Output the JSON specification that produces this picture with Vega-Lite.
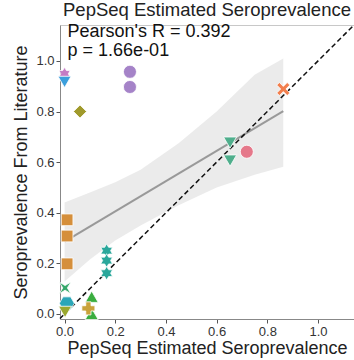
{
  "$schema": "https://vega.github.io/schema/vega-lite/v6.json",
  "width": 294,
  "height": 294,
  "autosize": {"type": "none"},
  "padding": {"left": 60, "top": 25, "right": 0, "bottom": 41},
  "background": "white",
  "title": {"text": "PepSeq Estimated Seroprevalence", "fontSize": 18.5, "font": "Liberation Sans", "fontWeight": "normal", "color": "#222", "offset": 3, "anchor": "middle"},
  "config": {
    "view": {"stroke": "#c8c8c8", "strokeWidth": 1},
    "axis": {"grid": false, "labelFont": "Liberation Sans", "titleFont": "Liberation Sans", "labelFontSize": 13, "labelColor": "#333", "titleFontSize": 18, "titleFontWeight": "normal", "titleColor": "#222", "domainColor": "#888", "tickColor": "#555", "tickSize": 4, "labelPadding": 2}
  },
  "datasets": {
    "points": [
      {"g": "A", "x": 0.0, "y": 0.949},
      {"g": "B", "x": 0.0, "y": 0.917},
      {"g": "C", "x": 0.258, "y": 0.957},
      {"g": "C", "x": 0.258, "y": 0.897},
      {"g": "D", "x": 0.061, "y": 0.800},
      {"g": "E", "x": 0.010, "y": 0.372},
      {"g": "E", "x": 0.010, "y": 0.308},
      {"g": "E", "x": 0.010, "y": 0.198},
      {"g": "F", "x": 0.166, "y": 0.250},
      {"g": "F", "x": 0.166, "y": 0.211},
      {"g": "F", "x": 0.166, "y": 0.161},
      {"g": "G", "x": 0.002, "y": 0.103},
      {"g": "H", "x": 0.009, "y": 0.042},
      {"g": "I", "x": 0.002, "y": 0.008},
      {"g": "J", "x": 0.107, "y": 0.068},
      {"g": "J", "x": 0.107, "y": 0.000},
      {"g": "K", "x": 0.094, "y": 0.022},
      {"g": "L", "x": 0.653, "y": 0.677},
      {"g": "L", "x": 0.653, "y": 0.606},
      {"g": "M", "x": 0.719, "y": 0.641},
      {"g": "N", "x": 0.863, "y": 0.889}
    ],
    "fit": [
      {"x": 0.0, "y": 0.286},
      {"x": 0.863, "y": 0.802}
    ],
    "band": [
      {"x": 0.0, "lo": 0.128, "hi": 0.44},
      {"x": 0.1, "lo": 0.215, "hi": 0.48},
      {"x": 0.2, "lo": 0.29, "hi": 0.52},
      {"x": 0.3, "lo": 0.35, "hi": 0.57},
      {"x": 0.45, "lo": 0.43, "hi": 0.675},
      {"x": 0.6, "lo": 0.5, "hi": 0.8},
      {"x": 0.75, "lo": 0.55, "hi": 0.945},
      {"x": 0.863, "lo": 0.582, "hi": 1.01}
    ],
    "identity": [
      {"x": -0.018, "y": -0.018},
      {"x": 1.142, "y": 1.142}
    ],
    "note": [
      {"label": "Pearson's R = 0.392", "x": 0.0, "y": 1.116},
      {"label": "p = 1.66e-01", "x": 0.0, "y": 1.04}
    ]
  },
  "layer": [
    {
      "data": {"name": "band"},
      "mark": {"type": "area", "color": "#e0e0e0", "opacity": 0.65},
      "encoding": {
        "x": {"field": "x", "type": "quantitative", "scale": {"domain": [-0.018, 1.142], "nice": false, "zero": false}, "axis": {"title": "PepSeq Estimated Seroprevalence", "values": [0, 0.2, 0.4, 0.6, 0.8, 1.0], "format": ".1f", "titlePadding": 1}},
        "y": {"field": "lo", "type": "quantitative", "scale": {"domain": [-0.02, 1.142], "nice": false, "zero": false}, "axis": {"title": "Seroprevalence From Literature", "values": [0, 0.2, 0.4, 0.6, 0.8, 1.0], "format": ".1f", "titlePadding": 5}},
        "y2": {"field": "hi"}
      }
    },
    {
      "data": {"name": "fit"},
      "mark": {"type": "line", "color": "#999999", "strokeWidth": 2},
      "encoding": {
        "x": {"field": "x", "type": "quantitative"},
        "y": {"field": "y", "type": "quantitative"}
      }
    },
    {
      "data": {"name": "identity"},
      "mark": {"type": "line", "color": "#111111", "strokeWidth": 1.5, "strokeDash": [5, 3]},
      "encoding": {
        "x": {"field": "x", "type": "quantitative"},
        "y": {"field": "y", "type": "quantitative"}
      }
    },
    {
      "data": {"name": "points"},
      "mark": {"type": "point", "filled": true, "opacity": 1, "size": 170, "stroke": "white", "strokeWidth": 0.8},
      "encoding": {
        "x": {"field": "x", "type": "quantitative"},
        "y": {"field": "y", "type": "quantitative"},
        "color": {"field": "g", "type": "nominal", "legend": null, "scale": {"domain": ["A","B","C","D","E","F","G","H","I","J","K","L","M","N"], "range": ["#c47cc4","#3c9fdc","#a583c8","#a09a2c","#d58f3b","#2aa79b","#35a86a","#2aa6b7","#9aa82e","#3aad3f","#c9a23a","#4fae8c","#e5788a","#f27f4e"]}},
        "shape": {"field": "g", "type": "nominal", "legend": null, "scale": {"domain": ["A","B","C","D","E","F","G","H","I","J","K","L","M","N"], "range": [
          "M0,-1L0.29,-0.5L0.87,-0.5L0.58,0L0.87,0.5L0.29,0.5L0,1L-0.29,0.5L-0.87,0.5L-0.58,0L-0.87,-0.5L-0.29,-0.5Z",
          "triangle-down",
          "circle",
          "diamond",
          "M-0.9,-0.9L0.9,-0.9L0.9,0.9L-0.9,0.9Z",
          "M0,-1.05L0.3,-0.52L0.91,-0.52L0.61,0L0.91,0.52L0.3,0.52L0,1.05L-0.3,0.52L-0.91,0.52L-0.61,0L-0.91,-0.52L-0.3,-0.52Z",
          "M-0.9,-0.9L0,-0.35L0.9,-0.9L0.35,0L0.9,0.9L0,0.35L-0.9,0.9L-0.35,0Z",
          "M-1.15,0L-0.58,-0.99L0.58,-0.99L1.15,0L0.58,0.99L-0.58,0.99Z",
          "triangle-down",
          "triangle-up",
          "cross",
          "triangle-down",
          "circle",
          "M-1,-0.6L-0.6,-1L0,-0.4L0.6,-1L1,-0.6L0.4,0L1,0.6L0.6,1L0,0.4L-0.6,1L-1,0.6L-0.4,0Z"
        ]}}
      }
    },
    {
      "data": {"name": "note"},
      "mark": {"type": "text", "align": "left", "baseline": "middle", "font": "Liberation Sans", "fontSize": 18, "color": "#111", "dx": 3},
      "encoding": {
        "x": {"field": "x", "type": "quantitative"},
        "y": {"field": "y", "type": "quantitative"},
        "text": {"field": "label", "type": "nominal"}
      }
    }
  ]
}
